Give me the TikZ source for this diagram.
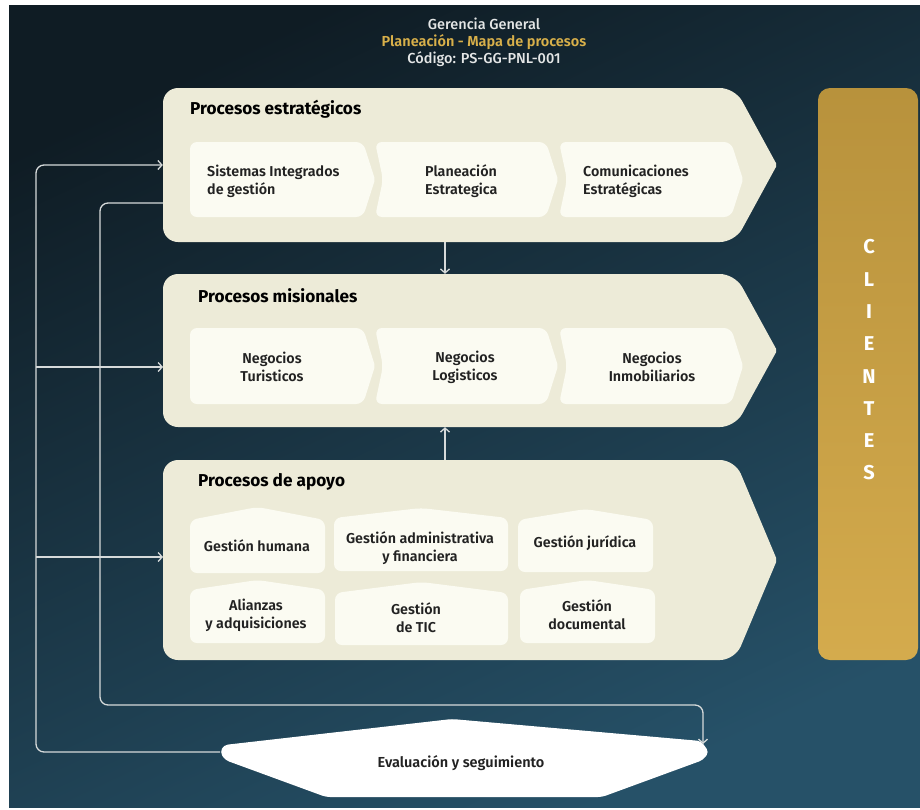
\documentclass[tikz,border=0pt]{standalone}
\usepackage{fontspec}
\setmainfont{Fira Sans}[UprightFont=* SemiBold, BoldFont=* Bold]
\newfontfamily\titlefont{Fira Sans}[UprightFont=* Medium, BoldFont=* SemiBold]
\usetikzlibrary{arrows.meta,calc}

\definecolor{bgtop}{HTML}{0F1C24}
\definecolor{bgmid}{HTML}{162832}
\definecolor{bgbot}{HTML}{265168}
\definecolor{areac}{HTML}{EDEBD8}
\definecolor{cellc}{HTML}{FBFBF2}
\definecolor{txt}{HTML}{222222}
\definecolor{linec}{HTML}{D6DADA}
\definecolor{goldtop}{HTML}{B8923C}
\definecolor{goldbot}{HTML}{D4AB4D}
\definecolor{titlegold}{HTML}{D8B04A}
\definecolor{titlegrey}{HTML}{E4E6E6}

\tikzset{
  conn/.style={draw=linec, line width=1.3pt, rounded corners=8pt},
  arrowend/.style={-{Straight Barb[length=4pt,width=9pt,line width=1.3pt]}},
  anchorbox/.style={draw=none, inner sep=0pt, minimum width=564pt},
  label/.style={text=txt, font=\fontsize{14.3}{18}\selectfont, inner sep=0pt},
  head/.style={text=black, font=\bfseries\fontsize{17.2}{20}\selectfont, anchor=west, inner sep=0pt},
  titletext/.style={font=\titlefont\fontsize{14.5}{17}\selectfont, inner sep=0pt}
}

% cell with a notched left side and a pointed right side
\newcommand\chevcell[5]{%
  \fill[cellc] ({#1+#5},{(#3+#4)/2}) [rounded corners=7pt] -- (#1,#3) -- (#2,#3)
    [rounded corners=2pt] -- ({#2+12},{(#3+#4)/2})
    [rounded corners=7pt] -- (#2,#4) -- (#1,#4) -- cycle;}
% cell with a low gable on top
\newcommand\housecell[5]{%
  \fill[cellc, rounded corners=7pt] ({(#1+#2)/2},#3) -- (#2,#4) -- (#2,#5) -- (#1,#5) -- (#1,#4) -- cycle;}
% large arrow-shaped band
\newcommand\band[2]{%
  \fill[areac] (163,{(#1+#2)/2}) [rounded corners=15pt] -- (163,#1) -- (735,#1)
    [rounded corners=2pt] -- (777,{(#1+#2)/2})
    [rounded corners=15pt] -- (735,#2) -- (163,#2) -- cycle;}

\begin{document}
\begin{tikzpicture}[x=1pt,y=-1pt]
\useasboundingbox (0,0) rectangle (920,809);
\fill[white] (0,0) rectangle (920,809);
\shade[top color=bgtop, middle color=bgmid, bottom color=bgbot, shading angle=25] (9,5) rectangle (920,807);

% heading
\node[titletext, text=titlegrey] (t1) at (484,24) {Gerencia General};
\node[titletext, text=titlegold, font=\titlefont\bfseries\fontsize{14.5}{17}\selectfont] (t2) at (484,42) {Planeación - Mapa de procesos};
\node[titletext, text=titlegrey] (t3) at (484,59) {Código: PS-GG-PNL-001};

% bands
\band{88}{242}
\band{274}{427}
\band{460}{660}
\node[anchorbox, minimum height=154pt] (est) at (445,165) {};
\node[anchorbox, minimum height=153pt] (mis) at (445,350.5) {};
\node[anchorbox, minimum height=200pt] (apo) at (445,560) {};

\node[head] (hest) at (190,109) {Procesos estratégicos};
\node[head] (hmis) at (198,296) {Procesos misionales};
\node[head] (hapo) at (198,482) {Procesos de apoyo};

% strategic processes
\chevcell{190}{363}{142}{217}{0}
\chevcell{375}{546}{142}{217}{8}
\chevcell{559}{731}{142}{217}{8}
\node[label, anchor=west, align=left] (s1) at (207,181) {Sistemas Integrados\\de gestión};
\node[label, anchor=west, align=left] (s2) at (425,181) {Planeación\\Estrategica};
\node[label, anchor=west, align=left] (s3) at (583,181) {Comunicaciones\\Estratégicas};

% core processes
\chevcell{190}{363}{328}{404}{0}
\chevcell{375}{546}{328}{404}{8}
\chevcell{559}{731}{328}{404}{8}
\node[label, align=center] (m1) at (272,367) {Negocios\\Turisticos};
\node[label, align=center] (m2) at (465,367) {Negocios\\Logisticos};
\node[label, align=center] (m3) at (652,367) {Negocios\\Inmobiliarios};

% support processes
\housecell{190}{325}{507}{520}{573}
\housecell{334}{508}{508}{518}{571}
\housecell{518}{653}{509}{520}{572}
\housecell{190}{325}{580}{590}{643}
\housecell{335}{508}{582}{593}{645}
\housecell{520}{655}{580}{590}{643}
\node[label, align=center] (a1) at (257,546) {Gestión humana};
\node[label, align=center] (a2) at (420,548) {Gestión administrativa\\y financiera};
\node[label, align=center] (a3) at (585,543) {Gestión jurídica};
\node[label, align=center] (a4) at (256,615) {Alianzas\\y adquisiciones};
\node[label, align=center] (a5) at (416,618) {Gestión\\de TIC};
\node[label, align=center] (a6) at (587,615) {Gestión\\documental};

% clients
\shade[top color=goldtop, bottom color=goldbot, rounded corners=12pt] (818,88) rectangle (918,660);
\node[draw=none, minimum width=100pt, minimum height=572pt] (cli) at (868,374) {};
\node[text=white, font=\bfseries\fontsize{20}{32.3}\selectfont, align=center, inner sep=0pt] (clitext) at (869,360)
  {C\\L\\I\\E\\N\\T\\E\\S};

% evaluation
\fill[white, rounded corners=4pt] (452,719) -- (701,741) -- (709,752) -- (703,760) -- (602,797)
  -- (326,797) -- (225,760) -- (220,752) -- (224,745) -- cycle;
\node[label, font=\fontsize{14.5}{18}\selectfont] (ev) at (461,763) {Evaluación y seguimiento};
\coordinate (evin) at (220,752);
\coordinate (evtop) at (703,744);

% connectors
\coordinate (misin) at (163,367);
\coordinate (apoin) at (163,557);
\coordinate (estout) at (163,203);
\coordinate (jmis) at (36,367);
\coordinate (japo) at (36,557);
\draw[conn, arrowend] (evin) -| (36,165) -- (est.west);
\draw[conn, arrowend, rounded corners=0pt] (jmis) -- (misin);
\draw[conn, arrowend, rounded corners=0pt] (japo) -- (apoin);
\draw[conn, arrowend] (estout) -| (100,705) -| (evtop);
\draw[conn, arrowend] (est.south) -- (mis.north);
\draw[conn, arrowend] (apo.north) -- (mis.south);
\end{tikzpicture}
\end{document}
